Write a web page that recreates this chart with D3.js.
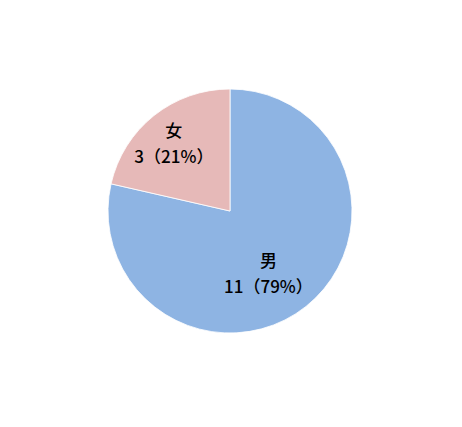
<!DOCTYPE html>
<html>
<head>
<meta charset="utf-8">
<script src="https://cdn.jsdelivr.net/npm/d3@7"></script>
<style>
  html, body { margin: 0; padding: 0; background: #fff; }
  text { font-family: "Noto Sans CJK JP", "Noto Sans", sans-serif; font-weight: 500; fill: #000; }
</style>
</head>
<body>
<svg id="chart" width="462" height="427"></svg>
<script>
// data
const categories = ['男', '女'];
const values = [11, 3];
const colors = ['#8EB4E3', '#E6B9B8'];

const cx = 230;
const cy = 211;
const radius = 122;

const total = d3.sum(values);
const rows = categories.map((c, i) => ({ name: c, value: values[i], color: colors[i] }));

const pie = d3.pie().value((d) => d.value).sort(null);
const arc = d3.arc().innerRadius(0).outerRadius(radius);

// label placement (radius fraction, angle shift in radians)
const labelPos = { 男: { r: 0.6, shift: 0.12 }, 女: { r: 0.72, shift: -0.02 } };

const svg = d3.select('#chart');
const g = svg.append('g').attr('transform', `translate(${cx},${cy})`);

const arcs = pie(rows);

g.selectAll('path.slice')
  .data(arcs)
  .enter()
  .append('path')
  .attr('class', 'slice')
  .attr('d', arc)
  .attr('fill', (d) => d.data.color)
  .attr('stroke', '#fff')
  .attr('stroke-width', 0.8);

const labels = g.selectAll('g.label')
  .data(arcs)
  .enter()
  .append('g')
  .attr('class', 'label')
  .attr('transform', (d) => {
    const p = labelPos[d.data.name];
    const a = (d.startAngle + d.endAngle) / 2 + p.shift;
    const rr = radius * p.r;
    return `translate(${rr * Math.sin(a)},${-rr * Math.cos(a)})`;
  });

labels.append('text')
  .attr('text-anchor', 'middle')
  .attr('y', -6)
  .attr('font-size', 17)
  .text((d) => d.data.name);

labels.append('text')
  .attr('text-anchor', 'middle')
  .attr('y', 20)
  .attr('font-size', 17)
  .text((d) => `${d.data.value}（${Math.round((d.data.value / total) * 100)}%）`);
</script>
</body>
</html>
